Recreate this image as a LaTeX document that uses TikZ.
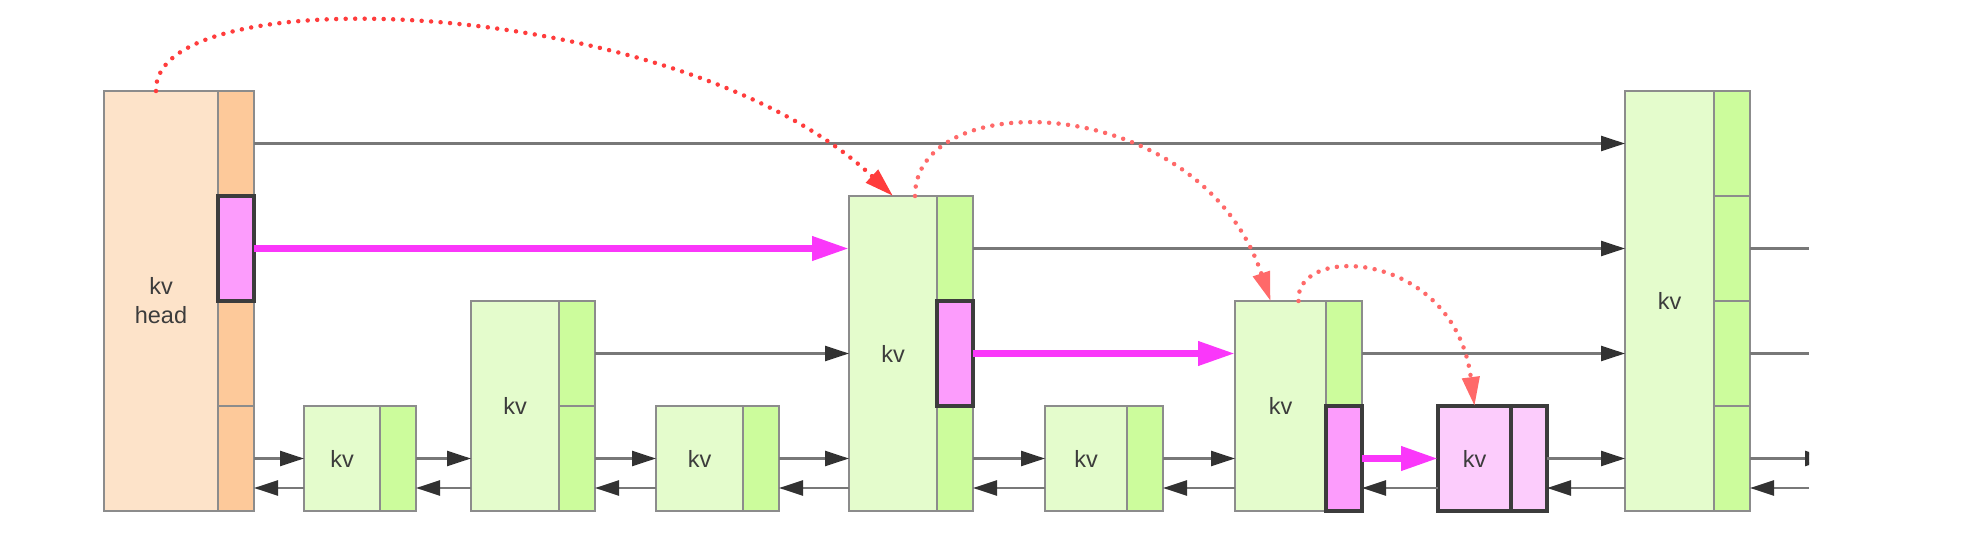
\documentclass[tikz,border=0pt]{standalone}
\usepackage{fontspec}
\setmainfont{Liberation Sans}
\usetikzlibrary{positioning,arrows.meta}
\definecolor{headlight}{RGB}{253,227,201}
\definecolor{headside}{RGB}{253,201,154}
\definecolor{kvlight}{RGB}{228,252,204}
\definecolor{kvside}{RGB}{204,252,156}
\definecolor{hotside}{RGB}{252,156,252}
\definecolor{hotlight}{RGB}{252,204,252}
\definecolor{boxgray}{RGB}{140,140,140}
\definecolor{hotborder}{RGB}{60,60,60}
\definecolor{textgray}{RGB}{60,60,60}
\definecolor{linkgray}{RGB}{120,120,120}
\definecolor{tipdark}{RGB}{50,50,50}
\definecolor{hopmagenta}{RGB}{250,55,250}
\definecolor{jumpred}{RGB}{255,60,60}
\definecolor{jumppink}{RGB}{255,105,105}

\begin{document}
\begin{tikzpicture}[x=1pt,y=-1pt,
  box/.style={draw=boxgray, line width=2.5pt, inner sep=0pt, outer sep=0pt, anchor=north west,
    text=textgray, font=\fontsize{23.5}{29}\selectfont, align=center},
  kvmain/.style={box, fill=kvlight},
  kvcell/.style={box, fill=kvside, minimum width=36pt, minimum height=105pt},
  headmain/.style={box, fill=headlight},
  headcell/.style={kvcell, fill=headside},
  hotcell/.style={kvcell, fill=hotside, draw=hotborder, line width=3.5pt},
  hotmain/.style={box, fill=hotlight, draw=hotborder, line width=3.5pt},
  link/.style={draw=linkgray, line width=2.5pt, -{Triangle[length=24pt,width=15pt,color=tipdark]}},
  tail/.style={draw=linkgray, line width=2.5pt},
  hop/.style={draw=hopmagenta, line width=7pt, -{Triangle[length=37pt,width=23pt]}},
  jump/.style={line width=4.5pt, dash pattern=on 0pt off 9.5pt, line cap=round,
    -{Triangle[length=29pt,width=17pt]}}]
\useasboundingbox (0,0) rectangle (1987,553);

\node[headmain, minimum width=114pt, minimum height=420pt] (hd) at (104,91) {kv\\head};
\node[headcell] (hd4) at (218,91) {};
\node[headcell] (hd2) at (218,301) {};
\node[headcell] (hd1) at (218,406) {};
\node[hotcell] (hd3) at (218,196) {};

\node[kvmain, minimum width=76pt, minimum height=105pt] (n1) at (304,406) {kv};
\node[kvcell] (a1) at (380,406) {};

\node[kvmain, minimum width=88pt, minimum height=210pt] (n2) at (471,301) {kv};
\node[kvcell] (b2) at (559,301) {};
\node[kvcell] (b1) at (559,406) {};

\node[kvmain, minimum width=87pt, minimum height=105pt] (n3) at (656,406) {kv};
\node[kvcell] (c1) at (743,406) {};

\node[kvmain, minimum width=88pt, minimum height=315pt] (n4) at (849,196) {kv};
\node[kvcell] (d3) at (937,196) {};
\node[kvcell] (d1) at (937,406) {};
\node[hotcell] (d2) at (937,301) {};

\node[kvmain, minimum width=82pt, minimum height=105pt] (n5) at (1045,406) {kv};
\node[kvcell] (e1) at (1127,406) {};

\node[kvmain, minimum width=91pt, minimum height=210pt] (n6) at (1235,301) {kv};
\node[kvcell] (f2) at (1326,301) {};
\node[hotcell] (f1) at (1326,406) {};

\node[hotmain, minimum width=73pt, minimum height=105pt] (n7) at (1438,406) {kv};
\node[hotcell, fill=hotlight] (g1) at (1511,406) {};

\node[kvmain, minimum width=89pt, minimum height=420pt] (n8) at (1625,91) {kv};
\node[kvcell] (k4) at (1714,91) {};
\node[kvcell] (k3) at (1714,196) {};
\node[kvcell] (k2) at (1714,301) {};
\node[kvcell] (k1) at (1714,406) {};

\coordinate (rim) at (1809,488);
\coordinate (tail) at (1829,458);

\draw[link] (hd4.east) -- (hd4.east -| n8.west);

\draw[hop] (hd3.east) -- (hd3.east -| n4.west);
\draw[link] (d3.east) -- (d3.east -| n8.west);
\draw[tail] (k3.east) -- (k3.east -| rim);

\draw[link] (b2.east) -- (b2.east -| n4.west);
\draw[hop] (d2.east) -- (d2.east -| n6.west);
\draw[link] (f2.east) -- (f2.east -| n8.west);
\draw[tail] (k2.east) -- (k2.east -| rim);

\draw[link] (hd1.east) -- (hd1.east -| n1.west);
\draw[link] (a1.east) -- (a1.east -| n2.west);
\draw[link] (b1.east) -- (b1.east -| n3.west);
\draw[link] (c1.east) -- (c1.east -| n4.west);
\draw[link] (d1.east) -- (d1.east -| n5.west);
\draw[link] (e1.east) -- (e1.east -| n6.west);
\draw[hop] (f1.east) -- (f1.east -| n7.west);
\draw[link] (g1.east) -- (g1.east -| n8.west);
\begin{scope}
\clip (k1.north east) rectangle (rim |- k1.south);
\draw[link] (k1.east) -- (k1.east -| tail);
\end{scope}

\draw[link] ([yshift=23pt]n1.south west) -- ([yshift=23pt]hd1.south east);
\draw[link] ([yshift=23pt]n2.south west) -- ([yshift=23pt]a1.south east);
\draw[link] ([yshift=23pt]n3.south west) -- ([yshift=23pt]b1.south east);
\draw[link] ([yshift=23pt]n4.south west) -- ([yshift=23pt]c1.south east);
\draw[link] ([yshift=23pt]n5.south west) -- ([yshift=23pt]d1.south east);
\draw[link] ([yshift=23pt]n6.south west) -- ([yshift=23pt]e1.south east);
\draw[link] ([yshift=23pt]n7.south west) -- ([yshift=23pt]f1.south east);
\draw[link] ([yshift=23pt]n8.south west) -- ([yshift=23pt]g1.south east);
\draw[link] (rim) -- ([yshift=23pt]k1.south east);

\draw[jump, jumpred] ([xshift=-5pt]hd.north) .. controls +(-4,-116) and +(-213,-201) .. (n4.north);
\draw[jump, jumppink] ([xshift=22pt]n4.north) .. controls +(0,-112) and +(-70,-210) .. ([xshift=-10pt]n6.north);
\draw[jump, jumppink] ([xshift=18pt]n6.north) .. controls +(-4,-58) and +(-20,-156) .. (n7.north);
\end{tikzpicture}
\end{document}
